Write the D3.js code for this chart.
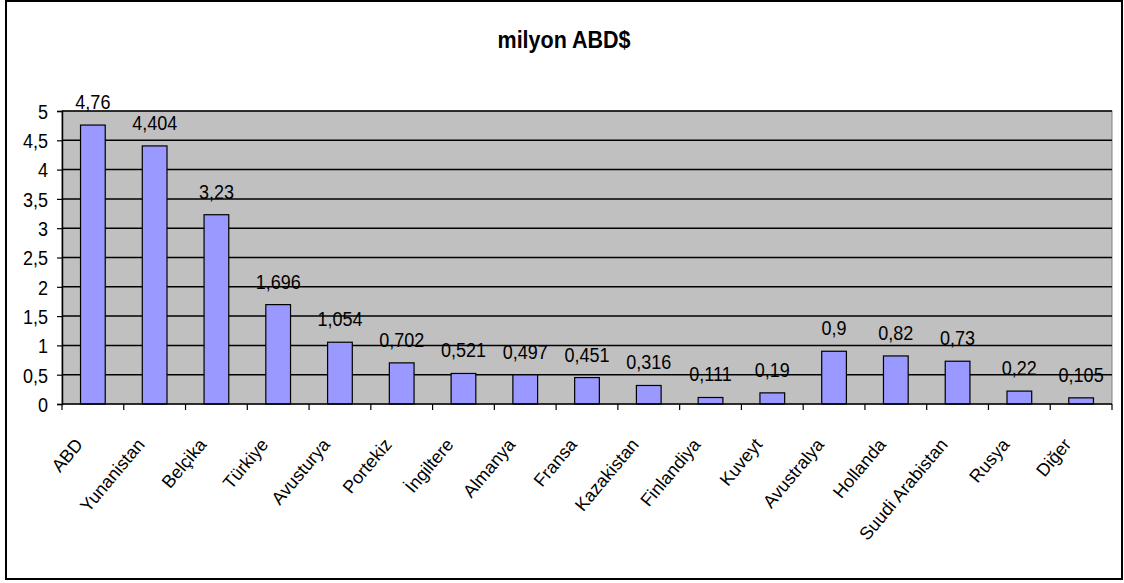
<!DOCTYPE html>
<html><head><meta charset="utf-8">
<script src="https://cdn.jsdelivr.net/npm/d3@7"></script>
<style>body{margin:0;background:#fff}svg{display:block}text{font-family:"Liberation Sans",Arial,sans-serif}</style>
</head><body><svg id="c" width="1124" height="583"></svg>
<script>
const categories = ["ABD","Yunanistan","Belçika","Türkiye","Avusturya","Portekiz","İngiltere","Almanya","Fransa","Kazakistan","Finlandiya","Kuveyt","Avustralya","Hollanda","Suudi Arabistan","Rusya","Diğer"];
const values = [4.76,4.404,3.23,1.696,1.054,0.702,0.521,0.497,0.451,0.316,0.111,0.19,0.9,0.82,0.73,0.22,0.105];
const valueLabels = ["4,76","4,404","3,23","1,696","1,054","0,702","0,521","0,497","0,451","0,316","0,111","0,19","0,9","0,82","0,73","0,22","0,105"];
const yTicks = [0,0.5,1,1.5,2,2.5,3,3.5,4,4.5,5];
const yTickLabels = ["0","0,5","1","1,5","2","2,5","3","3,5","4","4,5","5"];
const title = "milyon ABD$";

const svg = d3.select("#c");
const L=62,R=1112,T=111,B=404;
const SY = 1.16;
svg.append("rect").attr("x",6).attr("y",1).attr("width",1116).attr("height",578).attr("fill","#fff").attr("stroke","#000").attr("stroke-width",2);
svg.append("text").attr("transform",`translate(564,48) scale(1,1.1)`).attr("text-anchor","middle").attr("font-size",21.5).attr("font-weight","bold").text(title);

const x = d3.scaleBand().domain(categories).range([L,R]).paddingInner(0.6).paddingOuter(0.3);
const xb = d3.scaleBand().domain(categories).range([L,R]);
const y = d3.scaleLinear().domain([0,5]).range([B,T]);

svg.append("rect").attr("x",L).attr("y",T).attr("width",R-L).attr("height",B-T).attr("fill","#c0c0c0").attr("stroke","#808080").attr("stroke-width",1);
svg.append("g").selectAll("line").data(yTicks.slice(1)).join("line")
  .attr("x1",L).attr("x2",R).attr("y1",d=>y(d)).attr("y2",d=>y(d)).attr("stroke","#000").attr("stroke-width",1.5);

svg.append("g").selectAll("rect").data(values).join("rect")
  .attr("x",(d,i)=>x(categories[i])).attr("width",x.bandwidth())
  .attr("y",d=>y(d)).attr("height",d=>B-y(d))
  .attr("fill","#9999ff").attr("stroke","#000").attr("stroke-width",1.2);

svg.append("g").selectAll("text").data(values).join("text")
  .attr("transform",(d,i)=>`translate(${x(categories[i])+x.bandwidth()/2},${y(d)-16}) scale(1,${SY})`)
  .attr("text-anchor","middle").attr("font-size",18).text((d,i)=>valueLabels[i]);

// y axis
const ya = d3.axisLeft(y).tickValues(yTicks).tickSize(5).tickFormat("");
const gy = svg.append("g").attr("transform",`translate(${L},0)`).call(ya);
gy.select(".domain").attr("stroke","#000").attr("stroke-width",1.5);
gy.selectAll(".tick line").attr("stroke","#000").attr("stroke-width",1.2);
gy.selectAll(".tick text").remove();
gy.selectAll(".tick").append("text")
  .attr("transform",`translate(-14,0) scale(1,${SY})`)
  .attr("dy","0.35em").attr("text-anchor","end").attr("font-size",18).attr("fill","#000")
  .attr("font-family","Liberation Sans, Arial, sans-serif")
  .text((d,i)=>yTickLabels[i]);

// x axis line + ticks at boundaries
svg.append("line").attr("x1",L).attr("x2",R).attr("y1",B).attr("y2",B).attr("stroke","#000").attr("stroke-width",1.5);
const bounds = categories.map(c=>xb(c)).concat([R]);
svg.append("g").selectAll("line").data(bounds).join("line")
  .attr("x1",d=>d).attr("x2",d=>d).attr("y1",B).attr("y2",B+6).attr("stroke","#000").attr("stroke-width",1.2);

svg.append("g").selectAll("text").data(categories).join("text")
  .attr("transform",d=>`translate(${xb(d)+xb.bandwidth()/2-9},${B+41}) rotate(-50)`)
  .attr("text-anchor","end").attr("font-size",18).text(d=>d);
</script></body></html>
